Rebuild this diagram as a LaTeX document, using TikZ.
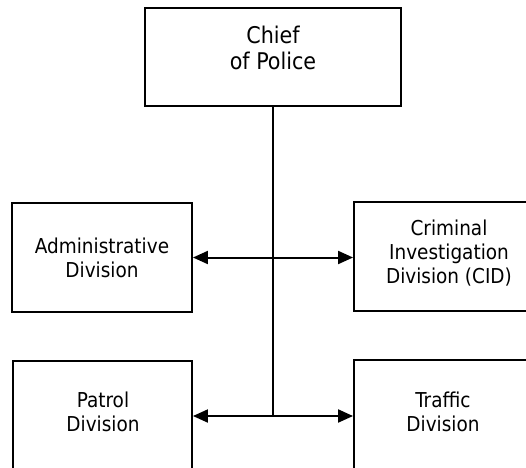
\documentclass[tikz,border=0pt]{standalone}
\usepackage{fontspec}
\setmainfont{DejaVu Sans Condensed}
\usetikzlibrary{arrows.meta,calc}

\begin{document}
\begin{tikzpicture}[x=1pt,y=1pt,
  orgbox/.style={draw=black, line width=1.9pt, rectangle, inner sep=0pt},
  lbl/.style={align=center, font=\fontsize{20.5}{24}\selectfont, inner sep=0pt},
  biglbl/.style={align=center, font=\fontsize{23}{25.5}\selectfont, inner sep=0pt},
  link/.style={line width=2pt},
  tip/.tip={Triangle[length=15pt,width=13pt]},
  twoway/.style={link, tip-tip},
  oneway/.style={link, -tip}
]
\useasboundingbox (0,0) rectangle (526,467);
\clip (0,0) rectangle (526,467);

% chief box, text sits a little above centre
\node[orgbox, minimum width=256pt, minimum height=98pt] (chief) at (273,410) {};
\node[biglbl] (chieftxt) at (273,419) {Chief\\of Police};

% middle row
\node[orgbox, lbl, minimum width=180pt, minimum height=109pt] (admin) at (102,209.5)
  {Administrative\\Division};
\node[orgbox, minimum width=190pt, minimum height=109pt] (cid) at (449,210.5) {};
\node[lbl] (cidtxt) at (449,214) {Criminal\\Investigation\\Division (CID)};

% bottom row, running off the lower edge
\node[orgbox, minimum width=179pt, minimum height=139pt] (patrol) at (102.5,36.5) {};
\node[lbl] (patroltxt) at (103,55) {Patrol\\Division};
\node[orgbox, minimum width=180pt, minimum height=140pt] (traffic) at (444,37) {};
\node[lbl] (traffictxt) at (443,55) {Traffic\\Division};

% trunk line and branches
\coordinate (hub) at (chief.south |- 0,51);
\draw[link] (chief.south) -- (hub);
\draw[twoway] (admin.east) -- (admin.east -| cid.west);
\draw[oneway] (hub) -- (hub -| patrol.east);
\draw[oneway] (hub) -- (hub -| traffic.west);
\end{tikzpicture}
\end{document}
